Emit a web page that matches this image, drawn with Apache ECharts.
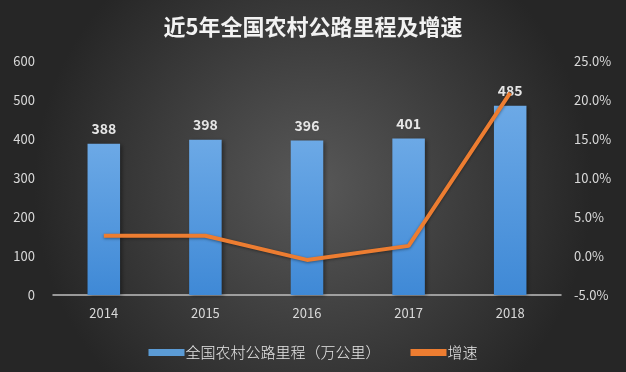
<!DOCTYPE html>
<html><head><meta charset="utf-8">
<script src="https://cdn.jsdelivr.net/npm/echarts@6/dist/echarts.min.js"></script>
<style>html,body{margin:0;padding:0;}#c{width:626px;height:372px;}</style>
</head><body><div id="c"></div>
<script>
const categories = ['2014', '2015', '2016', '2017', '2018'];
const mileage = [388, 398, 396, 401, 485];
const growth = [2.6, 2.6, -0.5, 1.3, 20.9];
const leftTicks = [0, 100, 200, 300, 400, 500, 600];
const rightTicks = [-5, 0, 5, 10, 15, 20, 25];

const chart = echarts.init(document.getElementById('c'));
const font = "'Noto Sans CJK SC', 'Open Sans', sans-serif";
chart.setOption({
  animation: false,
  backgroundColor: {
    type: 'radial', x: 0.5, y: 0.5, r: 0.75,
    colorStops: [{offset: 0, color: '#585858'}, {offset: 1, color: '#262626'}]
  },
  title: {
    text: '近5年全国农村公路里程及增速', left: 'center', top: 11,
    textStyle: {color: '#f2f2f2', fontSize: 22, fontWeight: 'bold', fontFamily: font}
  },
  legend: {
    bottom: 7, left: 'center', itemWidth: 36, itemHeight: 7, itemGap: 30,
    textStyle: {color: '#e6e6e6', fontSize: 15, fontWeight: 300, fontFamily: font, padding: [0,0,0,-4]},
    data: [
      {name: '全国农村公路里程（万公里）', icon: 'rect', itemStyle: {color: '#5b9bd5'}},
      {name: '增速', icon: 'rect', itemStyle: {color: '#ed7d31'}}
    ]
  },
  grid: {left: 53, right: 65, top: 61, bottom: 77},
  xAxis: {
    type: 'category', data: categories,
    axisLine: {lineStyle: {color: '#bfbfbf', width: 1.5}},
    axisTick: {show: false},
    axisLabel: {color: '#d9d9d9', fontSize: 13, margin: 12, fontFamily: font}
  },
  yAxis: [{
    type: 'value', min: leftTicks[0], max: leftTicks[leftTicks.length-1], interval: 100,
    splitLine: {show: false}, axisLine: {show: false}, axisTick: {show: false},
    axisLabel: {color: '#d9d9d9', fontSize: 13, margin: 18, fontFamily: font}
  }, {
    type: 'value', min: rightTicks[0], max: rightTicks[rightTicks.length-1], interval: 5,
    splitLine: {show: false}, axisLine: {show: false}, axisTick: {show: false},
    axisLabel: {color: '#d9d9d9', fontSize: 13, margin: 13, fontFamily: font,
      formatter: v => v.toFixed(1) + '%'}
  }],
  series: [{
    name: '全国农村公路里程（万公里）', type: 'bar', data: mileage, barWidth: '32%',
    itemStyle: {
      color: {type: 'linear', x: 0, y: 0, x2: 0, y2: 1,
        colorStops: [{offset: 0, color: '#6ca9e6'}, {offset: 1, color: '#3f89d6'}]},
      shadowColor: 'rgba(0,0,0,0.4)', shadowBlur: 4, shadowOffsetX: 2, shadowOffsetY: 1
    },
    label: {show: true, position: 'top', distance: 8, color: '#e6e6e6', fontSize: 14,
      fontWeight: 'bold', fontFamily: font}
  }, {
    name: '增速', type: 'line', yAxisIndex: 1, data: growth, symbol: 'none',
    lineStyle: {color: '#ed7d31', width: 4, shadowColor: 'rgba(0,0,0,0.4)', shadowBlur: 3, shadowOffsetY: 1},
    itemStyle: {color: '#ed7d31'}, z: 5
  }]
});
</script></body></html>
